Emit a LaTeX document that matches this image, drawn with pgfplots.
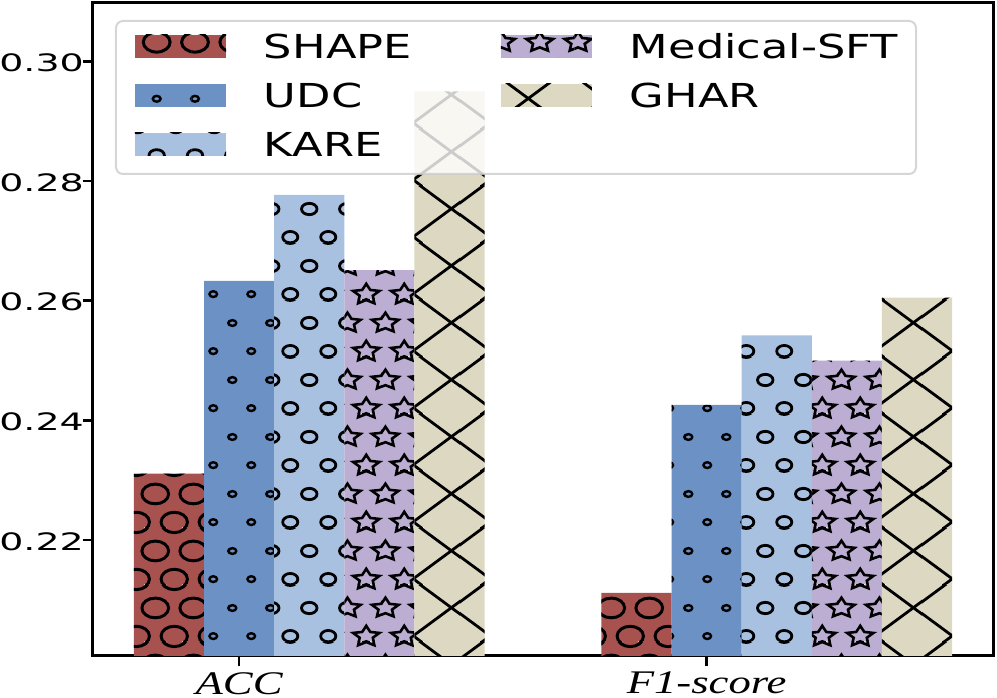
\documentclass[border=0pt]{standalone}
\usepackage{fontspec}
\usepackage{graphicx}
\usepackage{pgfplots}
\pgfplotsset{compat=1.18}
\usetikzlibrary{patterns}
\newfontfamily\tickfont[FakeStretch=1.355]{DejaVu Sans}
\newfontfamily\plainsans{DejaVu Sans}
\newfontfamily\xfont[FakeStretch=1.355]{Liberation Serif}

\definecolor{cSHAPE}{HTML}{A8524F}
\definecolor{cUDC}{HTML}{6C91C4}
\definecolor{cKARE}{HTML}{A8C1E0}
\definecolor{cMED}{HTML}{BCADD3}
\definecolor{cGHAR}{HTML}{DCD8C1}

% hatch lattice phase
\def\phx{3.5}\def\phy{33.2}
\def\xcx{68.7}\def\xcy{33.5}

\newcommand\hatchcenters[1]{%
  \foreach \dx in {-38.3,0,38.3}{\foreach \dy in {-56.6,0,56.6}{%
    \pgfmathsetmacro\cx{\dx+\phx}\pgfmathsetmacro\cy{\dy+\phy}#1%
    \pgfmathsetmacro\cx{\dx+\phx+19.15}\pgfmathsetmacro\cy{\dy+\phy+28.3}#1%
  }}}

\def\shpO{\pgfpathellipse{\pgfpoint{\cx pt}{\cy pt}}{\pgfqpoint{13.4pt}{0pt}}{\pgfqpoint{0pt}{9.9pt}}\pgfusepath{stroke}}
\def\shpo{\pgfpathellipse{\pgfpoint{\cx pt}{\cy pt}}{\pgfqpoint{7.7pt}{0pt}}{\pgfqpoint{0pt}{5.7pt}}\pgfusepath{stroke}}
\def\shpdot{\pgfpathellipse{\pgfpoint{\cx pt}{\cy pt}}{\pgfqpoint{3.9pt}{0pt}}{\pgfqpoint{0pt}{2.9pt}}\pgfusepath{stroke}}
\def\starpath{\pgfpathmoveto{\pgfpointpolar{90}{10.4pt}}%
  \pgfpathlineto{\pgfpointpolar{126}{5.2pt}}\pgfpathlineto{\pgfpointpolar{162}{10.4pt}}%
  \pgfpathlineto{\pgfpointpolar{198}{5.2pt}}\pgfpathlineto{\pgfpointpolar{234}{10.4pt}}%
  \pgfpathlineto{\pgfpointpolar{270}{5.2pt}}\pgfpathlineto{\pgfpointpolar{306}{10.4pt}}%
  \pgfpathlineto{\pgfpointpolar{342}{5.2pt}}\pgfpathlineto{\pgfpointpolar{18}{10.4pt}}%
  \pgfpathlineto{\pgfpointpolar{54}{5.2pt}}\pgfpathclose}
\def\shpstar{{\pgftransformshift{\pgfpoint{\cx pt}{\cy pt}}\pgftransformxscale{1.355}\starpath\pgfusepath{stroke}}}

\pgfdeclarepatternformonly{hO}{\pgfpointorigin}{\pgfqpoint{38.3pt}{56.6pt}}{\pgfqpoint{38.3pt}{56.6pt}}{%
  \pgfsetlinewidth{3pt}\hatchcenters{\shpO}}
\pgfdeclarepatternformonly{ho}{\pgfpointorigin}{\pgfqpoint{38.3pt}{56.6pt}}{\pgfqpoint{38.3pt}{56.6pt}}{%
  \pgfsetlinewidth{2.8pt}\hatchcenters{\shpo}}
\pgfdeclarepatternformonly{hdot}{\pgfpointorigin}{\pgfqpoint{38.3pt}{56.6pt}}{\pgfqpoint{38.3pt}{56.6pt}}{%
  \pgfsetlinewidth{2.4pt}\hatchcenters{\shpdot}}
\pgfdeclarepatternformonly{hstar}{\pgfpointorigin}{\pgfqpoint{38.3pt}{56.6pt}}{\pgfqpoint{38.3pt}{56.6pt}}{%
  \pgfsetlinewidth{2.6pt}\pgfsetmiterjoin\hatchcenters{\shpstar}}
\pgfdeclarepatternformonly{hX}{\pgfpointorigin}{\pgfqpoint{76.6pt}{56.6pt}}{\pgfqpoint{76.6pt}{56.6pt}}{%
  \pgfsetlinewidth{2.8pt}%
  \foreach \dx in {-76.6,0,76.6}{\foreach \dy in {-56.6,0,56.6}{%
    \pgfpathmoveto{\pgfpoint{\dx pt+\xcx pt-38.3pt}{\dy pt+\xcy pt-28.3pt}}%
    \pgfpathlineto{\pgfpoint{\dx pt+\xcx pt+38.3pt}{\dy pt+\xcy pt+28.3pt}}%
    \pgfpathmoveto{\pgfpoint{\dx pt+\xcx pt-38.3pt}{\dy pt+\xcy pt+28.3pt}}%
    \pgfpathlineto{\pgfpoint{\dx pt+\xcx pt+38.3pt}{\dy pt+\xcy pt-28.3pt}}%
    \pgfusepath{stroke}}}}

\pgfplotsset{myleg/.style={legend image code/.code={%
  \fill[##1,fill opacity=1,draw opacity=1,sharp corners] (0pt,-9.5pt) rectangle (91pt,13.5pt);}}}

\begin{document}
\begin{tikzpicture}
\begin{axis}[
  scale only axis, width=900pt, height=653pt,
  xmin=-0.4625, xmax=1.4625, ymin=0.20064, ymax=0.30975,
  ybar=0pt, bar width=0.15,
  xtick={-0.15,0.85}, xticklabels={ACC,F1-score},
  ytick={0.22,0.24,0.26,0.28,0.30},
  /pgf/number format/assume math mode=true,
  yticklabel={\scalebox{1.58}[1]{\plainsans\fontsize{24}{29}\selectfont\pgfmathprintnumber[fixed,fixed zerofill,precision=2]{\tick}}},
  xtick pos=bottom, ytick pos=left, tick align=outside,
  major tick length=10.5pt,
  tick style={line width=2.5pt, black},
  axis line style={line width=3pt},
  yticklabel style={inner sep=0pt, anchor=east, yshift=-1.5pt, xshift=1.5pt},
  xticklabel style={font=\xfont\itshape\fontsize{33}{36}\selectfont, inner sep=0pt, anchor=north, yshift=-5.5pt, text depth=0pt},
  legend columns=3, transpose legend,
  legend cell align=left,
  legend style={
    at={(axis description cs:0,1)}, anchor=north west, xshift=22pt, yshift=-17pt,
    draw=black!20, line width=2pt, rounded corners=7pt,
    fill=white, fill opacity=0.8, draw opacity=0.8, text opacity=1,
    inner xsep=19pt, inner ysep=13.5pt,
    row sep=21pt,
    font=\tickfont\fontsize{33}{36}\selectfont,
    nodes={inner sep=0pt, text height=24pt, text depth=4pt},
    /tikz/every odd column/.append style={column sep=38pt},
  },
]
\addplot[bar shift=-0.3, fill=cSHAPE, draw=none, postaction={pattern=hO, pattern color=black}, myleg]
  coordinates {(0,0.2311) (1,0.2112)};
\addlegendentry{\makebox[237pt][l]{SHAPE}}
\addplot[bar shift=-0.15, fill=cUDC, draw=none, postaction={pattern=hdot, pattern color=black}, myleg]
  coordinates {(0,0.2633) (1,0.2426)};
\addlegendentry{\makebox[237pt][l]{UDC}}
\addplot[bar shift=0, fill=cKARE, draw=none, postaction={pattern=ho, pattern color=black}, myleg]
  coordinates {(0,0.2777) (1,0.2542)};
\addlegendentry{\makebox[237pt][l]{KARE}}
\addplot[bar shift=0.15, fill=cMED, draw=none, postaction={pattern=hstar, pattern color=black}, myleg]
  coordinates {(0,0.2651) (1,0.2500)};
\addlegendentry{\makebox[267pt][l]{Medical-SFT}}
\addplot[bar shift=0.3, fill=cGHAR, draw=none, postaction={pattern=hX, pattern color=black}, myleg]
  coordinates {(0,0.2950) (1,0.2605)};
\addlegendentry{\makebox[267pt][l]{GHAR}}
\end{axis}
\pgfresetboundingbox
\path ([xshift=-93pt,yshift=-42pt]current axis.south west) rectangle ++(997pt,698pt);
\end{tikzpicture}
\end{document}
